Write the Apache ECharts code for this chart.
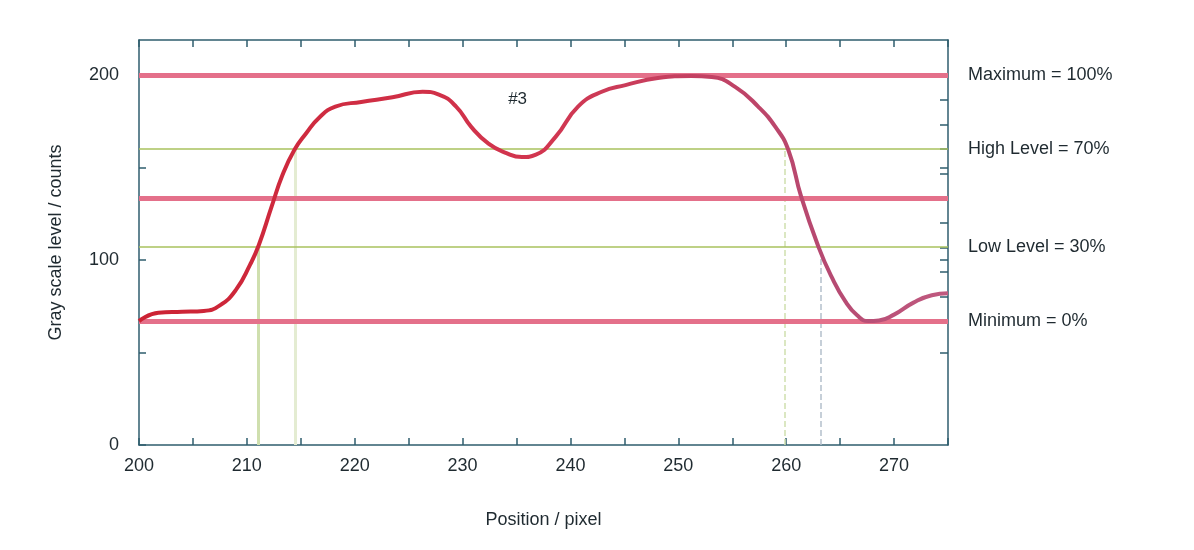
<!DOCTYPE html>
<html>
<head>
<meta charset="utf-8">
<title>Gray scale profile #3</title>
<script src="https://cdn.jsdelivr.net/npm/echarts@6/dist/echarts.min.js"></script>
<style>
  html, body { margin: 0; padding: 0; background: #ffffff; }
  #main { width: 1194px; height: 550px; }
</style>
</head>
<body>
<div id="main"></div>
<script>
// profile: position (pixel) / gray level (counts)
var positions = [200, 201.8, 204, 206, 207.5, 209, 210.3, 211.1, 212.3, 213.3, 214.4, 215.5, 216.7, 218.2,
  220.6, 223.5, 226.3, 227.8, 229.4, 230.8, 232.4, 234, 235.5, 236.8, 238.6, 240.7, 242.9, 245.1, 248.1,
  251.2, 253.1, 255.3, 257.4, 259, 260.2, 261.4, 263, 264.2, 265.5, 266.6, 267.6, 268.6, 270, 271.8, 273.5, 275];
var grayLevels = [67, 71.5, 72, 72.5, 75.5, 84, 97.5, 108, 129, 146, 159.5, 168.6, 177, 183,
  185.5, 188, 191, 189.5, 183, 172, 163, 158, 155.7, 157, 166.5, 183, 191, 194.6, 198.4,
  199.5, 199, 193.5, 183, 172, 159.5, 134, 107, 91, 77.5, 70, 67, 67.3, 70.5, 77, 81, 82];

// reference levels (counts) and their names on the right side
var levelValues = [67, 107, 160, 200];
var levelNames = ['Minimum = 0%', 'Low Level = 30%', 'High Level = 70%', 'Maximum = 100%'];
var midLevel = 133.5;

// where the profile crosses the low / high levels
var crossPositions = [211.1, 214.5, 259.9, 263.2];
var crossLevels = [107, 160, 160, 107];

// tick labels
var xTickLabels = [200, 210, 220, 230, 240, 250, 260, 270];
var xTicks = [200, 205, 210, 215, 220, 225, 230, 235, 240, 245, 250, 255, 260, 265, 270, 275];
var yTickLabels = [0, 100, 200];
var yTicks = [0, 50, 100, 150, 200];

var axisColor = '#2f5d6e';
var textColor = '#1f2a30';
var font = 'Liberation Sans, Arial, sans-serif';

// right side ticks: every 10% between minimum and maximum, plus the count ticks
var rightTicks = [50, 100, 150];
for (var k = 0; k <= 10; k++) {
  rightTicks.push(levelValues[0] + (levelValues[3] - levelValues[0]) * k / 10);
}

var profile = positions.map(function (p, i) { return [p, grayLevels[i]]; });

var crossLines = crossPositions.map(function (p, i) {
  var last = i === 3;
  return [
    { coord: [p, 0], lineStyle: {
        color: last ? '#b4c0cc' : (i === 1 ? '#e4ecd2' : '#cfdfae'),
        width: last ? 1.5 : (i === 2 ? 1.5 : 3),
        type: last || i === 2 ? 'dashed' : 'solid' } },
    { coord: [p, crossLevels[i]] }
  ];
});

var redLine = { color: '#e4708a', width: 5, type: 'solid' };
var greenLine = { color: '#a9c25e', width: 1.5, type: 'solid' };
var levelLines = [
  { yAxis: levelValues[0], lineStyle: redLine },
  { yAxis: levelValues[1], lineStyle: greenLine },
  { yAxis: midLevel, lineStyle: redLine },
  { yAxis: levelValues[2], lineStyle: greenLine },
  { yAxis: levelValues[3], lineStyle: redLine }
];

var chart = echarts.init(document.getElementById('main'));

var option = {
  backgroundColor: '#ffffff',
  animation: false,
  textStyle: { fontFamily: font },
  grid: { left: 139, right: 246, top: 40, bottom: 105 },
  xAxis: [{
    type: 'value',
    min: 200,
    max: 275,
    name: 'Position / pixel',
    nameLocation: 'middle',
    nameGap: 66,
    nameTextStyle: { fontSize: 18, color: textColor },
    axisLine: { show: true, lineStyle: { color: axisColor, width: 1.5 } },
    axisTick: { show: true, inside: true, length: 7, customValues: xTicks, lineStyle: { color: axisColor, width: 1.5 } },
    axisLabel: { customValues: xTickLabels, fontSize: 18, color: textColor, margin: 12 },
    splitLine: { show: false }
  }, {
    type: 'value',
    position: 'top',
    min: 200,
    max: 275,
    axisLine: { show: true, onZero: false, lineStyle: { color: axisColor, width: 1.5 } },
    axisTick: { show: true, inside: true, length: 7, customValues: xTicks, lineStyle: { color: axisColor, width: 1.5 } },
    axisLabel: { show: false },
    splitLine: { show: false }
  }],
  yAxis: [{
    type: 'value',
    min: 0,
    max: 219,
    name: 'Gray scale level / counts',
    nameLocation: 'middle',
    nameGap: 74,
    nameTextStyle: { fontSize: 18, color: textColor },
    axisLine: { show: true, lineStyle: { color: axisColor, width: 1.5 } },
    axisTick: { show: true, inside: true, length: 7, customValues: yTicks, lineStyle: { color: axisColor, width: 1.5 } },
    axisLabel: { customValues: yTickLabels, fontSize: 18, color: textColor, margin: 20 },
    splitLine: { show: false }
  }, {
    type: 'value',
    position: 'right',
    min: 0,
    max: 219,
    axisLine: { show: true, lineStyle: { color: axisColor, width: 1.5 } },
    axisTick: { show: true, inside: true, length: 8, customValues: rightTicks, lineStyle: { color: axisColor, width: 1.5 } },
    axisLabel: {
      customValues: levelValues,
      fontSize: 18,
      color: textColor,
      margin: 20,
      formatter: function (v) {
        var i = levelValues.indexOf(v);
        return i >= 0 ? levelNames[i] : '';
      }
    },
    splitLine: { show: false }
  }],
  series: [{
    name: 'levels',
    type: 'line',
    data: [],
    silent: true,
    markLine: {
      symbol: 'none',
      silent: true,
      label: { show: false },
      data: crossLines.concat(levelLines)
    }
  }, {
    name: 'profile',
    type: 'line',
    data: profile,
    smooth: 0.5,
    showSymbol: false,
    z: 5,
    lineStyle: {
      width: 4,
      color: new echarts.graphic.LinearGradient(0, 0, 1, 0, [
        { offset: 0, color: '#cc2233' },
        { offset: 0.5, color: '#d23650' },
        { offset: 0.85, color: '#b64a72' },
        { offset: 1, color: '#c05a80' }
      ])
    },
    markPoint: {
      symbol: 'circle',
      symbolSize: 0,
      label: { show: true, formatter: '#3', fontSize: 17, color: textColor, position: 'inside' },
      data: [{ coord: [235.1, 187] }]
    }
  }]
};

chart.setOption(option);
</script>
</body>
</html>
